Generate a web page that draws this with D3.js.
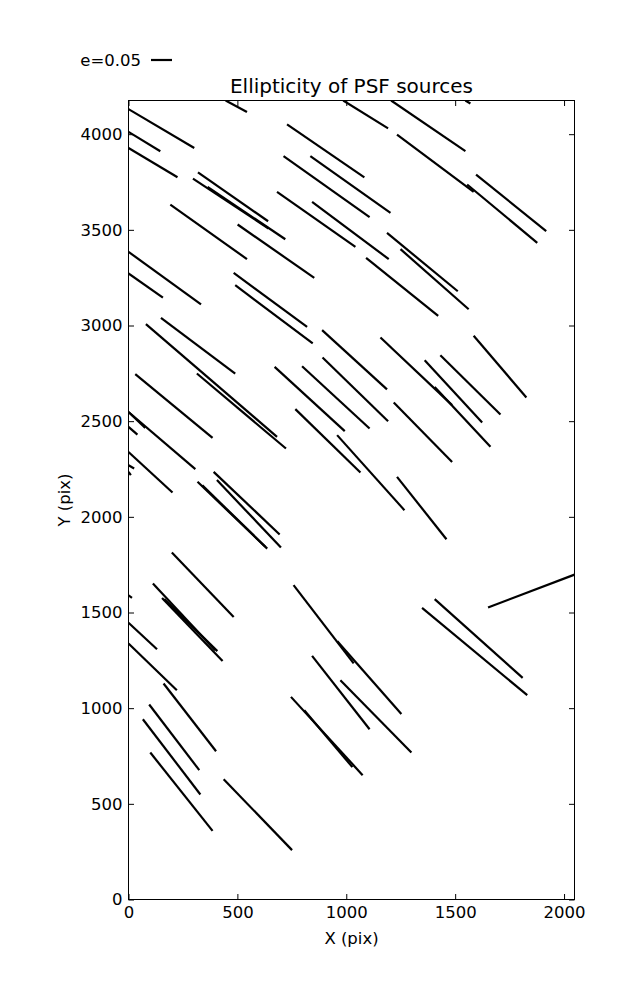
<!DOCTYPE html>
<html><head><meta charset="utf-8">
<script src="https://cdn.jsdelivr.net/npm/d3@7"></script>
<style>
body{margin:0;background:#fff}
text{font-family:"DejaVu Sans","Bitstream Vera Sans",sans-serif;fill:#000}
</style>
</head><body>
<svg id="chart" width="637" height="1000"></svg>
<script>
// ---- data (detector pixel coordinates of whisker end points) ----
const xTicks = [0, 500, 1000, 1500, 2000];
const yTicks = [0, 500, 1000, 1500, 2000, 2500, 3000, 3500, 4000];
const xDomain = [0, 2048];
const yDomain = [0, 4176];
const keyE = 0.05;
const keyLabel = "e=0.05";
const titleText = "Ellipticity of PSF sources";
const xLabel = "X (pix)";
const yLabel = "Y (pix)";
// whisker length scale: x-data units per unit ellipticity
const whiskerScale = 1930;

const xStart = [0, 0, 0, 446, 728, 835, 712, 682, 843, 192, 319, 296, 363, 501, 0, 0, 483, 490,
  986, 1206, 1547, 1233, 1596, 1555, 1187, 1249, 1091,
  149, 80, 314, 31, 0, 0, 0, 0, 0, 0,
  671, 797, 889, 891, 766, 958, 391, 406, 317, 339,
  1157, 1360, 1432, 1585, 1218, 1406, 1233,
  199, 112, 154, 164, 0, 0, 0, 161,
  758, 959, 843, 973, 746, 807, 1406, 1348, 1651,
  95, 66, 100, 437];
const yStart = [4131, 4012, 3928, 4176, 4051, 3885, 3885, 3698, 3646, 3632, 3800, 3768, 3724, 3528, 3385, 3272, 3275, 3211,
  4176, 4176, 4176, 3998, 3789, 3737, 3484, 3399, 3353,
  3040, 3007, 2749, 2746, 2548, 2548, 2470, 2339, 2270, 2235,
  2784, 2787, 2976, 2833, 2563, 2427, 2235, 2192, 2183, 2165,
  2937, 2819, 2845, 2946, 2598, 2679, 2209,
  1814, 1652, 1576, 1570, 1590, 1446, 1338, 1129,
  1643, 1350, 1273, 1146, 1059, 989, 1570, 1524, 1526,
  1019, 942, 768, 629];
const xEnd = [302, 146, 225, 544, 1083, 1203, 1107, 1042, 1195, 544, 641, 643, 720, 853, 333, 158, 820, 846,
  1192, 1547, 1570, 1585, 1918, 1877, 1512, 1562, 1422,
  490, 682, 723, 386, 307, 77, 41, 202, 26, 11,
  993, 1107, 1187, 1192, 1065, 1267, 694, 700, 628, 637,
  1486, 1624, 1708, 1827, 1486, 1662, 1460,
  483, 398, 432, 408, 16, 131, 222, 402,
  1034, 1253, 1107, 1299, 1075, 1028, 1810, 1831, 2048,
  325, 330, 386, 751];
const yEnd = [3928, 3911, 3775, 4116, 3774, 3589, 3566, 3411, 3347, 3347, 3545, 3507, 3451, 3249, 3110, 3146, 2993, 2906,
  4030, 3911, 4160, 3698, 3493, 3432, 3179, 3085, 3050,
  2749, 2418, 2357, 2413, 2249, 2465, 2430, 2127, 2253, 2218,
  2448, 2462, 2666, 2500, 2232, 2035, 1908, 1840, 1844, 1834,
  2584, 2493, 2535, 2624, 2287, 2366, 1883,
  1477, 1303, 1246, 1298, 1576, 1308, 1094, 775,
  1234, 969, 890, 768, 650, 692, 1158, 1068, 1698,
  676, 549, 359, 258];

// ---- layout ----
const W = 637, H = 1000;
const plot = {left: 128.5, right: 574.5, top: 100.5, bottom: 899.5};
const svg = d3.select("#chart");

const x = d3.scaleLinear().domain(xDomain).range([plot.left, plot.right]);
const y = d3.scaleLinear().domain(yDomain).range([plot.bottom, plot.top]);

svg.append("defs").append("clipPath").attr("id", "clip")
  .append("rect").attr("x", plot.left).attr("y", plot.top)
  .attr("width", plot.right - plot.left).attr("height", plot.bottom - plot.top);

// whiskers
const segs = xStart.map((d, i) => ({x1: d, y1: yStart[i], x2: xEnd[i], y2: yEnd[i]}));
svg.append("g").attr("clip-path", "url(#clip)")
  .selectAll("line").data(segs).join("line")
  .attr("x1", d => x(d.x1)).attr("y1", d => y(d.y1))
  .attr("x2", d => x(d.x2)).attr("y2", d => y(d.y2))
  .attr("stroke", "#000").attr("stroke-width", 2.2).attr("stroke-linecap", "butt");

// axes (ticks point inward, on all four sides)
const tickLen = 5.5, fs = "16.5px";
function style(g) {
  g.select(".domain").remove();
  g.selectAll(".tick line").attr("stroke", "#000").attr("stroke-width", 1);
  g.selectAll("text").attr("font-size", fs).attr("font-family", "DejaVu Sans").attr("fill", "#000");
}
svg.append("g").attr("transform", `translate(0,${plot.bottom})`)
  .call(d3.axisBottom(x).tickValues(xTicks).tickSize(-tickLen).tickPadding(7).tickFormat(d3.format("d")))
  .call(style);
svg.append("g").attr("transform", `translate(0,${plot.top})`)
  .call(d3.axisTop(x).tickValues(xTicks).tickSize(-tickLen).tickFormat(""))
  .call(style);
svg.append("g").attr("transform", `translate(${plot.left},0)`)
  .call(d3.axisLeft(y).tickValues(yTicks).tickSize(-tickLen).tickPadding(6).tickFormat(d3.format("d")))
  .call(style);
svg.append("g").attr("transform", `translate(${plot.right},0)`)
  .call(d3.axisRight(y).tickValues(yTicks).tickSize(-tickLen).tickFormat(""))
  .call(style);

// frame
svg.append("rect").attr("x", plot.left).attr("y", plot.top)
  .attr("width", plot.right - plot.left).attr("height", plot.bottom - plot.top)
  .attr("fill", "none").attr("stroke", "#000").attr("stroke-width", 1);

// title and labels
const cx = (plot.left + plot.right) / 2;
svg.append("text").attr("x", cx).attr("y", 93).attr("text-anchor", "middle")
  .attr("font-size", "20px").text(titleText);
svg.append("text").attr("x", cx).attr("y", 944).attr("text-anchor", "middle")
  .attr("font-size", fs).text(xLabel);
svg.append("text").attr("transform", `translate(70,${(plot.top + plot.bottom) / 2}) rotate(-90)`)
  .attr("text-anchor", "middle").attr("font-size", fs).text(yLabel);

// quiver key
const keyPx = x(keyE * whiskerScale) - x(0);
const keyX0 = 151;
svg.append("line").attr("x1", keyX0).attr("x2", keyX0 + keyPx).attr("y1", 60).attr("y2", 60)
  .attr("stroke", "#000").attr("stroke-width", 2.2);
svg.append("text").attr("x", keyX0 - 10).attr("y", 66).attr("text-anchor", "end")
  .attr("font-size", fs).text(keyLabel);
</script>
</body></html>
